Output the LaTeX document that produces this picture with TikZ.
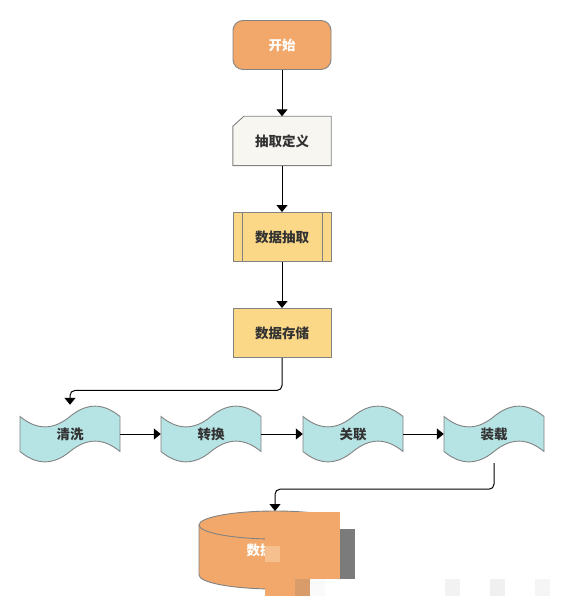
\documentclass[tikz,border=0pt]{standalone}
\usepackage{fontspec}
\newfontfamily\cjk{Noto Sans CJK SC}
\usetikzlibrary{arrows.meta,calc}
\pgfdeclarelayer{bg}
\pgfdeclarelayer{paper}
\pgfsetlayers{paper,bg,main}
\definecolor{orangef}{HTML}{F2A86A}
\definecolor{cardf}{HTML}{F8F6F1}
\definecolor{yellowf}{HTML}{FAD888}
\definecolor{tapef}{HTML}{B6E3E4}
\definecolor{bordc}{HTML}{828282}
\definecolor{txt}{HTML}{333333}
\definecolor{occgray}{HTML}{7B7B7B}
\definecolor{occlight}{HTML}{F5BF8E}
\definecolor{occtan}{HTML}{D89C6A}
\tikzset{
  lbl/.style={font=\cjk\bfseries\fontsize{13.5}{16}\selectfont, text=txt},
  boxsize/.style={minimum width=98pt, minimum height=49pt, inner sep=0pt},
  startbox/.style={lbl, boxsize, draw=bordc, line width=0.9pt, fill=orangef, rounded corners=10pt, text=white},
  plainbox/.style={lbl, boxsize, draw=bordc, line width=0.9pt, fill=yellowf},
  ghostbox/.style={lbl, boxsize},
  tapenode/.style={lbl, minimum width=100pt, minimum height=58pt, inner sep=0pt},
  tapestyle/.style={draw=bordc, line width=0.9pt, fill=tapef},
  cardstyle/.style={draw=bordc, line width=0.9pt, fill=cardf},
  cylstyle/.style={draw=bordc, line width=0.9pt, fill=orangef},
  conn/.style={draw=black, line width=1pt, -{Triangle[length=7pt,width=11pt]}},
}
\newcommand\tapeshape[1]{%
  \begin{pgfonlayer}{bg}
  \begin{scope}[shift={(#1.center)}]
    \filldraw[tapestyle] (-50,-17.5) .. controls (-33.3,-3.7) and (-16.7,-3.7) .. (0,-17.5)
      .. controls (16.7,-31.3) and (33.3,-31.3) .. (50,-17.5) -- (50,17.5)
      .. controls (33.3,3.7) and (16.7,3.7) .. (0,17.5)
      .. controls (-16.7,31.3) and (-33.3,31.3) .. (-50,17.5) -- cycle;
  \end{scope}
  \end{pgfonlayer}}
\begin{document}
\begin{tikzpicture}[x=1pt,y=-1pt]
\useasboundingbox (0,0) rectangle (565,612);
\begin{pgfonlayer}{paper}
  \fill[white] (0,0) rectangle (565,612);
\end{pgfonlayer}

% main column
\node[startbox] (start) at (282,45) {开始};
\node[ghostbox] (def) at (282,141) {抽取定义};
\begin{pgfonlayer}{bg}
  \filldraw[cardstyle] ($(def.north west)+(0,10)$) -- ($(def.north west)+(11,0)$)
    -- (def.north east) -- (def.south east) -- (def.south west) -- cycle;
\end{pgfonlayer}
\node[plainbox] (ext) at (282,237) {数据抽取};
\draw[draw=bordc, line width=0.9pt] ($(ext.north west)+(9.5,0)$) -- ($(ext.south west)+(9.5,0)$)
  ($(ext.north east)+(-9.5,0)$) -- ($(ext.south east)+(-9.5,0)$);
\node[plainbox] (store) at (282,333) {数据存储};

% tapes
\node[tapenode] (clean) at (70,434) {清洗};
\tapeshape{clean}
\node[tapenode] (trans) at (211,434) {转换};
\tapeshape{trans}
\node[tapenode] (rel) at (353,434) {关联};
\tapeshape{rel}
\node[tapenode] (load) at (494,434) {装载};
\tapeshape{load}

% cylinder
\filldraw[cylstyle] (199,525) -- (199,575)
  arc[start angle=180, end angle=0, x radius=76, y radius=14] -- (351,525)
  arc[start angle=0, end angle=-180, x radius=76, y radius=14] -- cycle;
\draw[draw=bordc, line width=0.9pt] (199,525) arc[start angle=180, end angle=0, x radius=76, y radius=14];
\node[lbl, text=white, anchor=west, inner sep=0pt] (db) at (246.5,550) {数据};
\coordinate (dbtop) at (275,511);

% connectors
\draw[conn] (start.south) -- (def.north);
\draw[conn] (def.south) -- (ext.north);
\draw[conn] (ext.south) -- (store.north);
\draw[conn, rounded corners=5pt] (store.south) -- ++(0,32.5) -| (clean.north);
\draw[conn] (clean.east) -- (trans.west);
\draw[conn] (trans.east) -- (rel.west);
\draw[conn] (rel.east) -- (load.west);
\draw[conn, rounded corners=5pt] (load.south) -- ++(0,26) -| (dbtop);

% occluding blocks as shown in the picture
\fill[orangef] (265,512) rectangle (340,579);
\fill[occlight] (265,545.7) rectangle (280,562.3);
\fill[occgray] (340,529) rectangle (355,579);
\fill[white] (340,505) rectangle (358,529);
\fill[orangef] (265,579) rectangle (295,595.5);
\fill[occtan] (295,579) rectangle (310,595.5);
\fill[white!98!black] (310,579) rectangle (325,595.5);
\fill[white] (325,579) rectangle (358,596);
\fill[white!95!black] (445,579) rectangle (460,595.5);
\fill[white!94!black] (490,579) rectangle (505,595.5);
\fill[white!96!black] (535,579) rectangle (550,595.5);
\end{tikzpicture}
\end{document}
